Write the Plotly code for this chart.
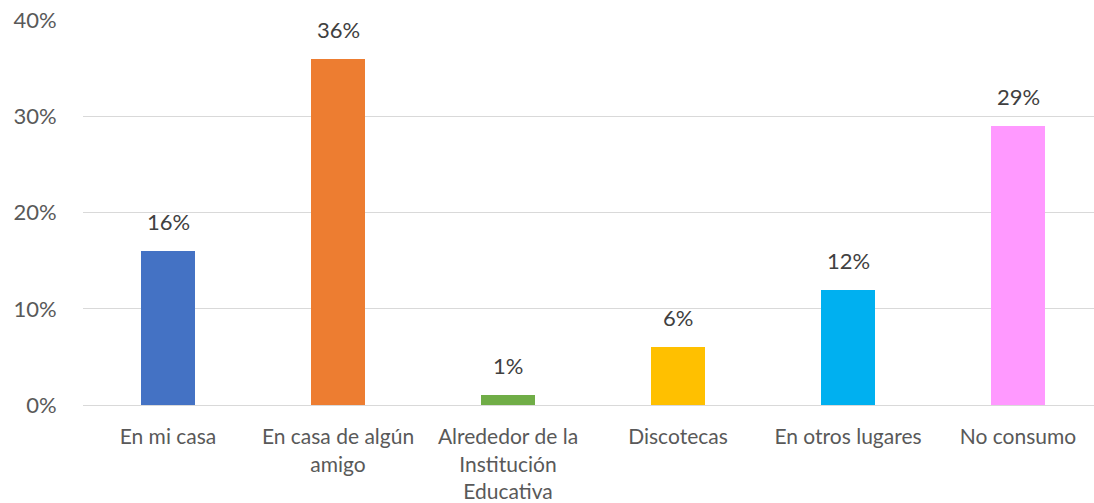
import plotly.graph_objects as go

categories = ["En mi casa", "En casa de algún<br>amigo", "Alrededor de la<br>Institución<br>Educativa",
              "Discotecas", "En otros lugares", "No consumo"]
values = [0.16, 0.36, 0.01, 0.06, 0.12, 0.29]
colors = ["#4472C4", "#ED7D31", "#70AD47", "#FFC000", "#00B0F0", "#FF99FF"]
y_ticks = [0, 0.1, 0.2, 0.3, 0.4]
y_labels = ["0%", "10%", "20%", "30%", "40%"]

FONT = "Lato"
xs = list(range(len(categories)))

fig = go.Figure()
fig.add_trace(go.Bar(x=xs, y=values, marker=dict(color=colors, line=dict(width=0)),
                     width=0.318, hoverinfo="skip"))

for x, v in zip(xs, values):
    fig.add_annotation(x=x, y=v, text=f"{round(v*100)}%", showarrow=False,
                       yanchor="bottom", yshift=14,
                       font=dict(family=FONT, size=22, color="#404040"))

fig.update_layout(
    width=1094, height=503,
    margin=dict(l=83, r=0, t=20, b=98),
    paper_bgcolor="white", plot_bgcolor="white",
    showlegend=False, bargap=0,
)
fig.update_xaxes(
    range=[-0.5, -0.5 + 1011/170], automargin=False,
    tickvals=xs, ticktext=categories,
    tickfont=dict(family=FONT, size=21, color="#595959"),
    showgrid=False, zeroline=False, showline=False,
    ticks="outside", ticklen=13, tickcolor="rgba(0,0,0,0)",
)
fig.update_yaxes(
    range=[0, 0.4004], automargin=False, tickvals=y_ticks, ticktext=y_labels,
    tickfont=dict(family=FONT, size=22, color="#595959"),
    showgrid=True, gridcolor="#D9D9D9", gridwidth=1.3,
    zeroline=True, zerolinecolor="#D9D9D9", zerolinewidth=1.3,
    showline=False, ticks="outside", ticklen=21, tickcolor="rgba(0,0,0,0)",
)

# remove the browser's default 8px body margin so the figure fills the window exactly
fig.write_html("out.html", config={"displayModeBar": False},
               post_script="document.body.style.margin='0';")
